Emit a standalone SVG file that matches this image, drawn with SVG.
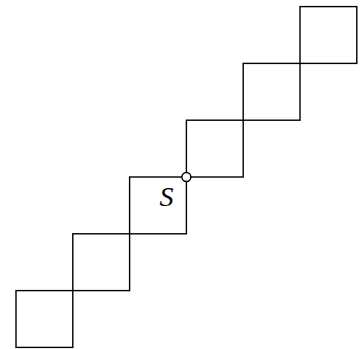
<svg xmlns="http://www.w3.org/2000/svg" width="360" height="349" viewBox="0 0 360 349">
<style>
.sq{fill:none;stroke:#000;stroke-width:1.4}
.lbl{font-family:"Liberation Serif",serif;font-style:italic;font-size:28px;fill:#000}
</style>
<rect width="360" height="349" fill="#fff"/>
<g id="squares">
<rect id="sq0" class="sq" x="16" y="290.6" width="56.8" height="56.8"/>
<rect id="sq1" class="sq" x="72.8" y="233.8" width="56.8" height="56.8"/>
<rect id="sq2" class="sq" x="129.6" y="177" width="56.8" height="56.8"/>
<rect id="sq3" class="sq" x="186.4" y="120.2" width="56.8" height="56.8"/>
<rect id="sq4" class="sq" x="243.2" y="63.4" width="56.8" height="56.8"/>
<rect id="sq5" class="sq" x="300" y="6.6" width="56.8" height="56.8"/>
</g>
<g id="S">
<circle cx="186.4" cy="177" r="4.5" fill="#fff" stroke="#000" stroke-width="1.4"/>
<text class="lbl" x="159.5" y="205.5">S</text>
</g>
</svg>
